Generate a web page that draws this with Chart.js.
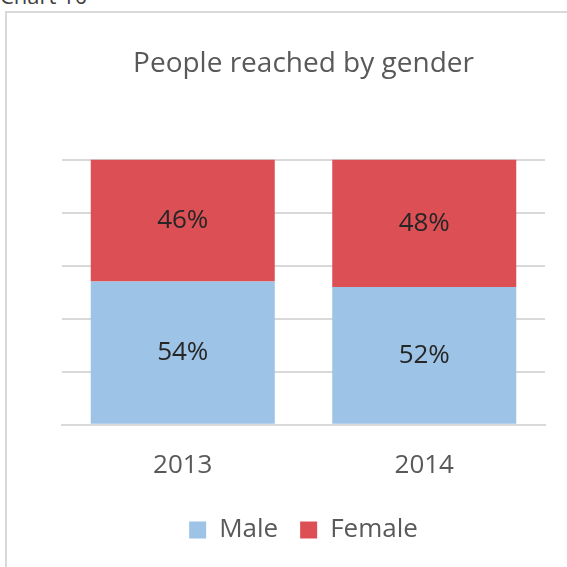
<!DOCTYPE html>
<html>
<head>
<meta charset="utf-8">
<script src="https://cdn.jsdelivr.net/npm/chart.js@4.4.1/dist/chart.umd.min.js"></script>
<style>
  html, body { margin: 0; padding: 0; background: #fff; overflow: hidden; }
  body { width: 567px; height: 567px; position: relative; font-family: "Open Sans", sans-serif; }
  #caption { position: absolute; left: 0; top: -20px; font-size: 22px; color: #404040; }
  #frame { position: absolute; left: 5px; top: 11px; width: 600px; height: 600px; border: 2px solid #d9d9d9; box-sizing: border-box; }
  #wrap { position: absolute; left: 0; top: 0; width: 567px; height: 567px; }
</style>
</head>
<body>
<div id="caption">Chart 10</div>
<div id="frame"></div>
<div id="wrap"><canvas id="gender-chart"></canvas></div>
<script>
const years = ['2013', '2014'];
const male = [54, 52];
const female = [46, 48];
const yTicks = [0, 20, 40, 60, 80, 100];

// writes the percentage in the middle of each bar segment
const barLabels = {
  id: 'barLabels',
  afterDatasetsDraw(chart) {
    const { ctx } = chart;
    ctx.save();
    ctx.font = '26px "Open Sans", sans-serif';
    ctx.fillStyle = '#262626';
    ctx.textAlign = 'center';
    ctx.textBaseline = 'middle';
    chart.data.datasets.forEach((ds, i) => {
      chart.getDatasetMeta(i).data.forEach((bar, j) => {
        const mid = (bar.y + bar.base) / 2;
        ctx.fillText(ds.data[j] + '%', bar.x, mid);
      });
    });
    ctx.restore();
  }
};

const ctx = document.getElementById('gender-chart');
new Chart(ctx, {
  type: 'bar',
  data: {
    labels: years,
    datasets: [
      { label: 'Male', data: male, backgroundColor: '#9DC3E6', barPercentage: 0.762, categoryPercentage: 1 },
      { label: 'Female', data: female, backgroundColor: '#DC5055', barPercentage: 0.762, categoryPercentage: 1 }
    ]
  },
  options: {
    responsive: true,
    maintainAspectRatio: false,
    animation: false,
    layout: { padding: { left: 62, right: 22, top: 0, bottom: 14 } },
    scales: {
      x: {
        stacked: true,
        grid: { display: false, drawTicks: false },
        border: { display: true, color: '#d9d9d9', width: 2 },
        ticks: { color: '#595959', font: { size: 26, family: 'Open Sans' }, padding: 25 },
        afterFit: (axis) => { axis.height -= 11; }
      },
      y: {
        stacked: true,
        min: 0,
        max: 100,
        afterBuildTicks: (axis) => { axis.ticks = yTicks.map(v => ({ value: v })); },
        grid: { color: '#d9d9d9', lineWidth: 2, drawTicks: false },
        border: { display: false },
        ticks: { display: false }
      }
    },
    plugins: {
      title: {
        display: true,
        text: 'People reached by gender',
        color: '#595959',
        font: { size: 28, family: 'Open Sans', weight: 'normal' },
        padding: { top: 47, bottom: 79 }
      },
      legend: {
        position: 'bottom',
        labels: {
          color: '#595959',
          font: { size: 26, family: 'Open Sans' },
          boxWidth: 17,
          boxHeight: 17,
          padding: 22
        }
      },
      tooltip: { enabled: false }
    }
  },
  plugins: [barLabels]
});
</script>
</body>
</html>
